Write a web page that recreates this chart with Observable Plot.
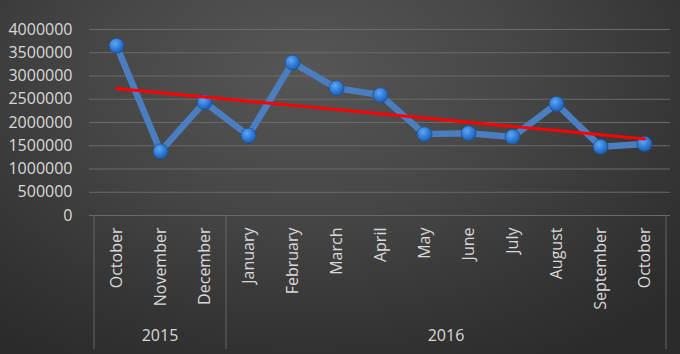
<!DOCTYPE html>
<html>
<head>
<meta charset="utf-8">
<script src="https://cdn.jsdelivr.net/npm/d3@7"></script>
<script src="https://cdn.jsdelivr.net/npm/@observablehq/plot@0.6"></script>
<style>
  html, body { margin: 0; padding: 0; }
  body {
    width: 680px; height: 354px; overflow: hidden;
    background: radial-gradient(ellipse 75% 95% at 45% 20%, #565656 0%, #474747 40%, #333333 80%, #2b2b2b 100%);
  }
  #chart svg { display: block; }
</style>
</head>
<body>
<div id="chart"></div>
<script>
const monthKeys = ["2015-10","2015-11","2015-12","2016-01","2016-02","2016-03","2016-04","2016-05","2016-06","2016-07","2016-08","2016-09","2016-10"];
const monthLabels = ["October","November","December","January","February","March","April","May","June","July","August","September","October"];
const values = [3650000, 1380000, 2440000, 1720000, 3290000, 2740000, 2590000, 1750000, 1770000, 1690000, 2400000, 1480000, 1540000];
const years = ["2015", "2016"];
const yearMonthCounts = [3, 10];
const yTicks = [0, 500000, 1000000, 1500000, 2000000, 2500000, 3000000, 3500000, 4000000];

const data = monthKeys.map((k, i) => ({key: k, label: monthLabels[i], value: values[i], i}));

// linear trendline (least squares over category index)
const n = values.length;
const mx = d3.mean(data, d => d.i), my = d3.mean(values);
const slope = d3.sum(data, d => (d.i - mx) * (d.value - my)) / d3.sum(data, d => (d.i - mx) ** 2);
const trend = data.map(d => ({key: d.key, value: my + slope * (d.i - mx)}));

const labelByKey = new Map(data.map(d => [d.key, d.label]));

const plot = Plot.plot({
  width: 680,
  height: 354,
  marginLeft: 89,
  marginRight: 10,
  marginTop: 29,
  marginBottom: 139,
  style: {background: "transparent", fontFamily: "Open Sans", fontSize: "16px", color: "#d9d9d9", overflow: "visible"},
  x: {type: "point", domain: monthKeys, padding: 0.5, label: null},
  y: {domain: [0, 4000000], label: null},
  marks: [
    Plot.ruleY(yTicks, {stroke: "#6a6a6a", strokeWidth: 1}),
    Plot.axisY({ticks: yTicks, tickSize: 0, tickPadding: 17, tickFormat: d => String(d), label: null}),
    Plot.axisX({tickSize: 0, tickRotate: -90, tickPadding: 12, tickFormat: k => labelByKey.get(k), label: null}),
    Plot.lineY(data, {x: "key", y: "value", stroke: "#4a7ec0", strokeWidth: 6.5, strokeLinejoin: "round", style: "filter: drop-shadow(1px 2px 1.5px rgba(0,0,0,0.45))"}),
    Plot.dot(data, {x: "key", y: "value", r: 7.5, fill: "url(#markerGrad)", stroke: "#1d4f8c", strokeWidth: 0.8, style: "filter: drop-shadow(1px 1.5px 1.2px rgba(0,0,0,0.6))"}),
    Plot.lineY(trend, {x: "key", y: "value", stroke: "#ff0000", strokeWidth: 3})
  ]
});

// gradient for markers
const svg = d3.select(plot);
const defs = svg.insert("defs", ":first-child");
const g = defs.append("radialGradient").attr("id", "markerGrad")
  .attr("cx", "40%").attr("cy", "35%").attr("r", "65%");
g.append("stop").attr("offset", "0%").attr("stop-color", "#5fa6f2");
g.append("stop").attr("offset", "60%").attr("stop-color", "#2f7ad6");
g.append("stop").attr("offset", "100%").attr("stop-color", "#1d5fb0");

// multi-level category axis: separators and year labels, positioned with Plot's x and y scales
const xs = plot.scale("x");
const ys = plot.scale("y");
const step = xs.step !== undefined ? xs.step : (xs.apply(monthKeys[1]) - xs.apply(monthKeys[0]));
const y0 = ys.apply(0);
const bottom = 349;
const layer = svg.append("g");
let start = 0;
const bounds = [xs.apply(monthKeys[0]) - step / 2];
years.forEach((yr, j) => {
  const first = monthKeys[start], last = monthKeys[start + yearMonthCounts[j] - 1];
  const x1 = xs.apply(first) - step / 2, x2 = xs.apply(last) + step / 2;
  bounds.push(x2);
  layer.append("text")
    .attr("x", (x1 + x2) / 2).attr("y", 337)
    .attr("text-anchor", "middle").attr("dominant-baseline", "middle")
    .attr("fill", "#d9d9d9").attr("font-family", "Open Sans").attr("font-size", 16)
    .text(yr);
  start += yearMonthCounts[j];
});
bounds.forEach(bx => {
  layer.append("line")
    .attr("x1", bx).attr("x2", bx).attr("y1", y0).attr("y2", bottom)
    .attr("stroke", "#666666").attr("stroke-width", 1);
});

document.getElementById("chart").appendChild(plot);
</script>
</body>
</html>
